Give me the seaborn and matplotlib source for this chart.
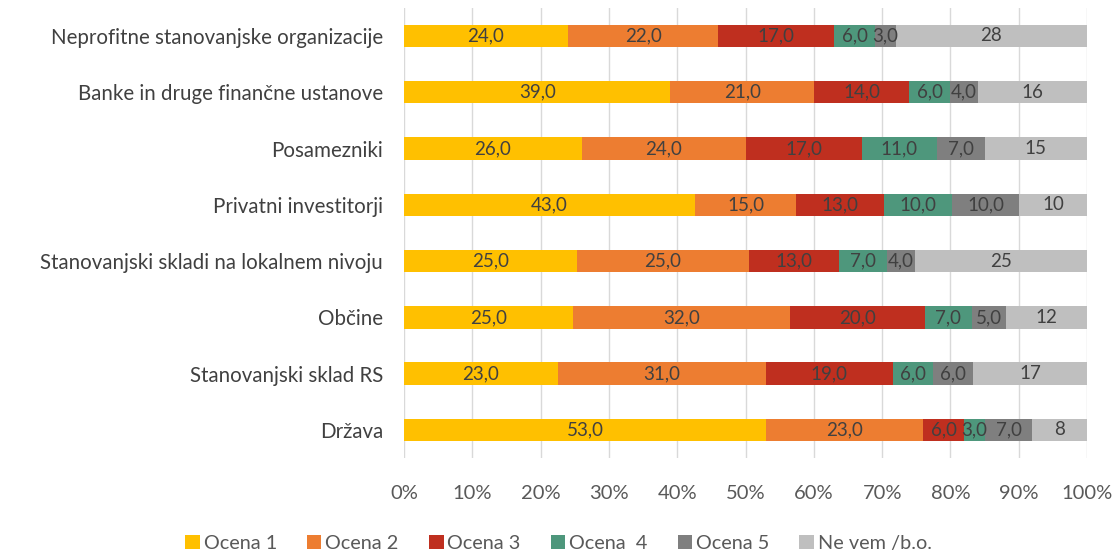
import pandas as pd
import seaborn as sns
import matplotlib.pyplot as plt

kategorije = ['Neprofitne stanovanjske organizacije', 'Banke in druge finančne ustanove', 'Posamezniki',
              'Privatni investitorji', 'Stanovanjski skladi na lokalnem nivoju', 'Občine',
              'Stanovanjski sklad RS', 'Država']
ocena_1 = [24, 39, 26, 43, 25, 25, 23, 53]
ocena_2 = [22, 21, 24, 15, 25, 32, 31, 23]
ocena_3 = [17, 14, 17, 13, 13, 20, 19, 6]
ocena_4 = [6, 6, 11, 10, 7, 7, 6, 3]
ocena_5 = [3, 4, 7, 10, 4, 5, 6, 7]
ne_vem = [28, 16, 15, 10, 25, 12, 17, 8]
serije = ['Ocena 1', 'Ocena 2', 'Ocena 3', 'Ocena  4', 'Ocena 5', 'Ne vem /b.o.']
barve = ['#FFC000', '#ED7D31', '#BF2F1F', '#4E977C', '#7F7F7F', '#BFBFBF']

plt.rcParams['font.family'] = ['Lato', 'DejaVu Sans']

df = pd.DataFrame(dict(zip(serije, [ocena_1, ocena_2, ocena_3, ocena_4, ocena_5, ne_vem])), index=kategorije)
delezi = df.div(df.sum(axis=1), axis=0) * 100 # переводим в проценты (100% stacked)
kumulativno = delezi.cumsum(axis=1) # накопленные суммы для наложения столбцов

# Визуализация
plt.figure(figsize=(11.17, 5.56), dpi=100)
ax = plt.axes([0.3617, 0.176, 0.6115, 0.81])
for serija, barva in reversed(list(zip(serije, barve))): # рисуем от самой длинной суммы к самой короткой
    sns.barplot(x=kumulativno[serija].values, y=kategorije, color=barva, orient='h', width=0.4,
                saturation=1, linewidth=0, label=serija, ax=ax, zorder=2)

for i, kat in enumerate(kategorije): # подписи значений в центре каждого сегмента
    for serija in serije:
        sredina = kumulativno.loc[kat, serija] - delezi.loc[kat, serija] / 2
        besedilo = f"{df.loc[kat, serija]}" if serija == 'Ne vem /b.o.' else f"{df.loc[kat, serija]:.1f}".replace('.', ',')
        plt.text(sredina, i, besedilo, ha='center', va='center', fontsize=13.5, color='#404040', zorder=3)

plt.xlim(0, 100)
plt.ylim(7.5, -0.5)
plt.xticks(range(0, 101, 10), [f"{v}%" for v in range(0, 101, 10)])
plt.tick_params(axis='x', length=0, pad=19, labelsize=14.5, labelcolor='#595959')
plt.tick_params(axis='y', length=0, pad=15, labelsize=14.8, labelcolor='#404040')
plt.grid(axis='x', color='#D9D9D9', linewidth=1, zorder=0)
ax.set_axisbelow(True)
for spine in ax.spines.values():
    spine.set_visible(False)
plt.xlabel('')
plt.ylabel('')

rocaji, oznake = ax.get_legend_handles_labels()
vrstni_red = [oznake.index(s) for s in serije] # легенда в исходном порядке
ax.legend([rocaji[k] for k in vrstni_red], serije, loc='center', bbox_to_anchor=(0.5, 0.023),
          bbox_transform=plt.gcf().transFigure, ncol=6, frameon=False, handlelength=0.75, handleheight=0.75,
          handletextpad=0.2, columnspacing=1.5, fontsize=14.3, labelcolor='#595959')

plt.savefig('out.png', dpi=100)
